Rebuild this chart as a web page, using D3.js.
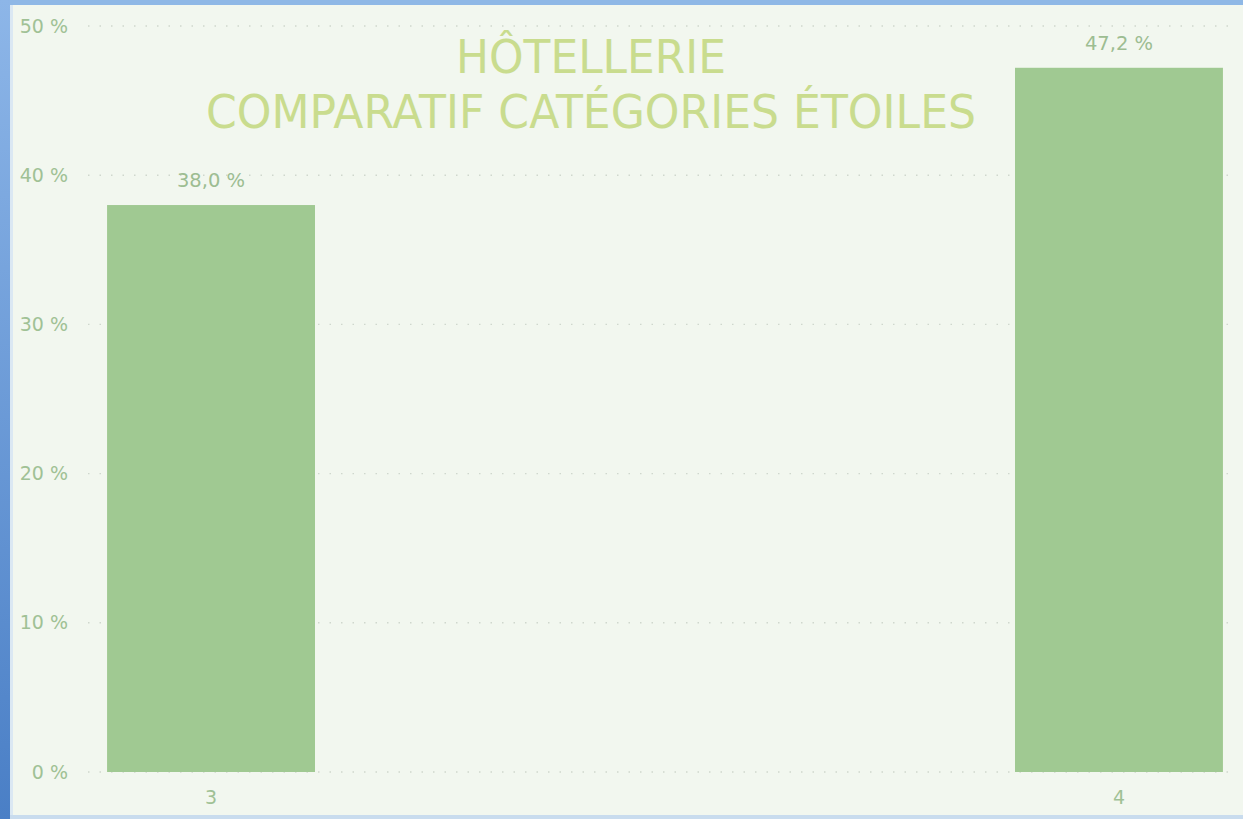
<!DOCTYPE html>
<html>
<head>
<meta charset="utf-8">
<script src="https://cdn.jsdelivr.net/npm/d3@7"></script>
<style>
  body { margin: 0; background: #f2f7ef; overflow: hidden; }
  svg { display: block; font-family: "DejaVu Sans", sans-serif; }
</style>
</head>
<body>
<div id="chart"></div>
<script>
// chart data
const categories = ['3', '4'];
const values = [38.0, 47.2];
const yTicks = [0, 10, 20, 30, 40, 50];
const titleLines = ['HÔTELLERIE', 'COMPARATIF CATÉGORIES ÉTOILES'];

const width = 1243, height = 819;

const svg = d3.select('#chart').append('svg')
    .attr('width', width)
    .attr('height', height);

// window frame
const defs = svg.append('defs');
const grad = defs.append('linearGradient')
    .attr('id', 'frameLeft')
    .attr('x1', 0).attr('y1', 0).attr('x2', 0).attr('y2', 1);
grad.append('stop').attr('offset', '0%').attr('stop-color', '#8db6e8');
grad.append('stop').attr('offset', '100%').attr('stop-color', '#4a7fc6');

svg.append('rect').attr('width', width).attr('height', height).attr('fill', '#f2f7ef');
svg.append('rect').attr('x', 0).attr('y', 0).attr('width', width).attr('height', 5).attr('fill', '#8fb8e6');
svg.append('rect').attr('x', 0).attr('y', 0).attr('width', 10).attr('height', height).attr('fill', 'url(#frameLeft)');
svg.append('rect').attr('x', 10).attr('y', 5).attr('width', 3).attr('height', height).attr('fill', '#dbe8f3');
svg.append('rect').attr('x', 10).attr('y', 815).attr('width', width).attr('height', 4).attr('fill', '#c9dcee');

// scales
const x = d3.scaleBand()
    .domain(categories)
    .range([88, 1242])
    .paddingInner(0.771)
    .paddingOuter(0.021);

const y = d3.scaleLinear()
    .domain([0, 50])
    .range([772, 26]);

// gridlines
svg.append('g')
    .selectAll('line')
    .data(yTicks)
    .enter()
    .append('line')
    .attr('x1', 88)
    .attr('x2', 1232)
    .attr('y1', d => y(d))
    .attr('y2', d => y(d))
    .attr('stroke', '#cfd7cd')
    .attr('stroke-width', 1.4)
    .attr('stroke-dasharray', '1.5,10');

// y axis labels
const yAxis = d3.axisLeft(y)
    .tickValues(yTicks)
    .tickSize(0)
    .tickPadding(0)
    .tickFormat(d => d + ' %');

svg.append('g')
    .attr('transform', 'translate(68,0)')
    .call(yAxis)
    .call(g => g.select('.domain').remove())
    .selectAll('text')
    .attr('fill', '#a0c195')
    .attr('font-size', 19)
    .attr('font-family', '"DejaVu Sans", sans-serif');

// x axis labels
const xAxis = d3.axisBottom(x).tickSize(0).tickPadding(0);
svg.append('g')
    .attr('transform', 'translate(0,790)')
    .call(xAxis)
    .call(g => g.select('.domain').remove())
    .selectAll('text')
    .attr('fill', '#a0c195')
    .attr('font-size', 19)
    .attr('font-family', '"DejaVu Sans", sans-serif');

// bars
svg.append('g')
    .selectAll('rect')
    .data(values)
    .enter()
    .append('rect')
    .attr('x', (d, i) => x(categories[i]))
    .attr('y', d => y(d))
    .attr('width', x.bandwidth())
    .attr('height', d => y(0) - y(d))
    .attr('fill', '#a0c992');

// value labels
svg.append('g')
    .selectAll('text')
    .data(values)
    .enter()
    .append('text')
    .attr('x', (d, i) => x(categories[i]) + x.bandwidth() / 2)
    .attr('y', d => y(d) - 18)
    .attr('text-anchor', 'middle')
    .attr('fill', '#9dbd92')
    .attr('font-size', 19.5)
    .text(d => d.toFixed(1).replace('.', ',') + ' %');

// title
const titleWidths = [270, 770];
svg.append('g')
    .selectAll('text')
    .data(titleLines)
    .enter()
    .append('text')
    .attr('x', 591)
    .attr('y', (d, i) => 73 + i * 55)
    .attr('text-anchor', 'middle')
    .attr('fill', '#c9dc8e')
    .attr('font-size', 47)
    .attr('textLength', (d, i) => titleWidths[i])
    .attr('lengthAdjust', 'spacingAndGlyphs')
    .text(d => d);
</script>
</body>
</html>
